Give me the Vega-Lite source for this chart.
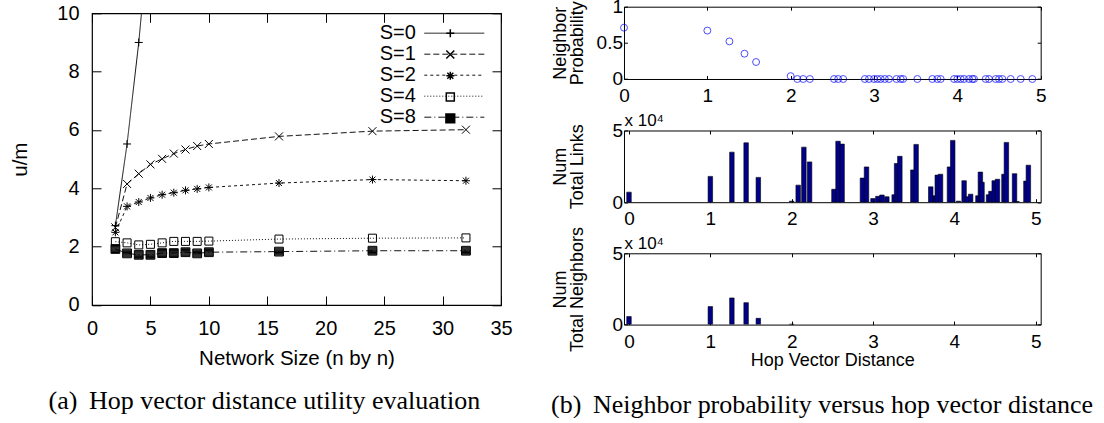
{
  "$schema": "https://vega.github.io/schema/vega-lite/v6.json",
  "background": "white",
  "padding": {"left": 10, "top": -3.3, "right": 0, "bottom": 0},
  "spacing": 38,
  "config": {
    "font": "Liberation Sans",
    "view": {"stroke": "black", "strokeWidth": 1},
    "axis": {
      "grid": false, "domain": false, "ticks": true, "tickColor": "black", "tickWidth": 1,
      "labelColor": "black", "titleColor": "black", "titleFontWeight": "normal",
      "labelFont": "Liberation Sans", "titleFont": "Liberation Sans",
      "labelFlush": false, "labelOverlap": false
    },
    "legend": {"labelFont": "Liberation Sans", "labelColor": "black", "padding": 0},
    "title": {"font": "Liberation Sans", "fontWeight": "normal", "color": "black"}
  },
  "datasets": {
    "utility": [
      {"S": "S=0", "n": 2, "um": 2.72}, {"S": "S=0", "n": 3, "um": 5.52}, {"S": "S=0", "n": 4, "um": 9.0}, {"S": "S=0", "n": 5, "um": 13.3},
      {"S": "S=1", "n": 2, "um": 2.66}, {"S": "S=1", "n": 3, "um": 4.15}, {"S": "S=1", "n": 4, "um": 4.5}, {"S": "S=1", "n": 5, "um": 4.82},
      {"S": "S=1", "n": 6, "um": 5.01}, {"S": "S=1", "n": 7, "um": 5.19}, {"S": "S=1", "n": 8, "um": 5.33}, {"S": "S=1", "n": 9, "um": 5.45},
      {"S": "S=1", "n": 10, "um": 5.52}, {"S": "S=1", "n": 16, "um": 5.78}, {"S": "S=1", "n": 24, "um": 5.96}, {"S": "S=1", "n": 32, "um": 6.01},
      {"S": "S=2", "n": 2, "um": 2.49}, {"S": "S=2", "n": 3, "um": 3.38}, {"S": "S=2", "n": 4, "um": 3.53}, {"S": "S=2", "n": 5, "um": 3.67},
      {"S": "S=2", "n": 6, "um": 3.78}, {"S": "S=2", "n": 7, "um": 3.85}, {"S": "S=2", "n": 8, "um": 3.93}, {"S": "S=2", "n": 9, "um": 3.98},
      {"S": "S=2", "n": 10, "um": 4.03}, {"S": "S=2", "n": 16, "um": 4.18}, {"S": "S=2", "n": 24, "um": 4.3}, {"S": "S=2", "n": 32, "um": 4.26},
      {"S": "S=4", "n": 2, "um": 2.17}, {"S": "S=4", "n": 3, "um": 2.13}, {"S": "S=4", "n": 4, "um": 2.06}, {"S": "S=4", "n": 5, "um": 2.08},
      {"S": "S=4", "n": 6, "um": 2.13}, {"S": "S=4", "n": 7, "um": 2.18}, {"S": "S=4", "n": 8, "um": 2.18}, {"S": "S=4", "n": 9, "um": 2.18},
      {"S": "S=4", "n": 10, "um": 2.19}, {"S": "S=4", "n": 16, "um": 2.26}, {"S": "S=4", "n": 24, "um": 2.29}, {"S": "S=4", "n": 32, "um": 2.3},
      {"S": "S=8", "n": 2, "um": 1.92}, {"S": "S=8", "n": 3, "um": 1.77}, {"S": "S=8", "n": 4, "um": 1.72}, {"S": "S=8", "n": 5, "um": 1.72},
      {"S": "S=8", "n": 6, "um": 1.78}, {"S": "S=8", "n": 7, "um": 1.78}, {"S": "S=8", "n": 8, "um": 1.81}, {"S": "S=8", "n": 9, "um": 1.77},
      {"S": "S=8", "n": 10, "um": 1.81}, {"S": "S=8", "n": 16, "um": 1.83}, {"S": "S=8", "n": 24, "um": 1.86}, {"S": "S=8", "n": 32, "um": 1.86}
    ],
    "prob": [
      {"d": 0, "p": 0.71}, {"d": 1.0, "p": 0.67}, {"d": 1.265, "p": 0.52}, {"d": 1.446, "p": 0.35}, {"d": 1.585, "p": 0.235},
      {"d": 2.0, "p": 0.04}, {"d": 2.08, "p": 0}, {"d": 2.15, "p": 0}, {"d": 2.23, "p": 0}, {"d": 2.52, "p": 0},
      {"d": 2.57, "p": 0}, {"d": 2.63, "p": 0}, {"d": 2.89, "p": 0}, {"d": 2.94, "p": 0}, {"d": 3.0, "p": 0},
      {"d": 3.04, "p": 0}, {"d": 3.08, "p": 0}, {"d": 3.13, "p": 0}, {"d": 3.18, "p": 0}, {"d": 3.27, "p": 0},
      {"d": 3.32, "p": 0}, {"d": 3.35, "p": 0}, {"d": 3.52, "p": 0}, {"d": 3.7, "p": 0}, {"d": 3.76, "p": 0},
      {"d": 3.8, "p": 0}, {"d": 3.96, "p": 0}, {"d": 4.0, "p": 0}, {"d": 4.04, "p": 0}, {"d": 4.08, "p": 0},
      {"d": 4.14, "p": 0}, {"d": 4.18, "p": 0}, {"d": 4.2, "p": 0}, {"d": 4.34, "p": 0}, {"d": 4.38, "p": 0},
      {"d": 4.46, "p": 0}, {"d": 4.5, "p": 0}, {"d": 4.54, "p": 0}, {"d": 4.64, "p": 0}, {"d": 4.76, "p": 0},
      {"d": 4.9, "p": 0}
    ],
    "links": [
      {"d": 0, "count": 7000}, {"d": 1.0, "count": 18000}, {"d": 1.265, "count": 34900}, {"d": 1.44, "count": 41400},
      {"d": 1.59, "count": 17300}, {"d": 2.0, "count": 700}, {"d": 2.08, "count": 11900}, {"d": 2.15, "count": 38400},
      {"d": 2.22, "count": 28100}, {"d": 2.52, "count": 9000}, {"d": 2.57, "count": 42500}, {"d": 2.62, "count": 40500},
      {"d": 2.87, "count": 16800}, {"d": 2.92, "count": 24600}, {"d": 3.0, "count": 2500}, {"d": 3.06, "count": 4100},
      {"d": 3.11, "count": 5000}, {"d": 3.17, "count": 3800}, {"d": 3.26, "count": 5200}, {"d": 3.29, "count": 27000},
      {"d": 3.33, "count": 32000}, {"d": 3.49, "count": 22500}, {"d": 3.53, "count": 40300}, {"d": 3.71, "count": 10700},
      {"d": 3.76, "count": 4500}, {"d": 3.79, "count": 18900}, {"d": 3.83, "count": 19500}, {"d": 3.94, "count": 24600},
      {"d": 3.98, "count": 43100}, {"d": 4.05, "count": 700}, {"d": 4.12, "count": 15000}, {"d": 4.16, "count": 3800},
      {"d": 4.2, "count": 5600}, {"d": 4.29, "count": 4500}, {"d": 4.32, "count": 21000}, {"d": 4.34, "count": 13900},
      {"d": 4.42, "count": 5200}, {"d": 4.45, "count": 7600}, {"d": 4.49, "count": 15000}, {"d": 4.53, "count": 16000},
      {"d": 4.61, "count": 19500}, {"d": 4.64, "count": 41700}, {"d": 4.74, "count": 19900}, {"d": 4.77, "count": 400},
      {"d": 4.88, "count": 14700}, {"d": 4.91, "count": 25800}
    ],
    "neighbors": [
      {"d": 0, "count": 5600}, {"d": 1.0, "count": 12600}, {"d": 1.265, "count": 18700},
      {"d": 1.44, "count": 15400}, {"d": 1.59, "count": 4400}, {"d": 2.0, "count": 300}
    ]
  },
  "hconcat": [
    {
      "spacing": 5.6,
      "bounds": "flush",
      "vconcat": [
        {
          "width": 1, "height": 1,
          "data": {"values": []},
          "mark": {"type": "rule"},
          "encoding": {},
          "view": {"stroke": "transparent"}
        },
        {
          "width": 409, "height": 291.7,
          "data": {"name": "utility"},
          "view": {"stroke": "black", "strokeWidth": 1.2},
          "title": {
            "text": "(a) \u2009Hop vector distance utility evaluation",
            "orient": "bottom", "anchor": "start", "frame": "group", "dx": -43.5, "offset": 18.5,
            "font": "Liberation Serif", "fontSize": 26, "baseline": "top"
          },
          "layer": [
            {
              "mark": {"type": "line", "clip": true, "stroke": "#111111", "strokeWidth": 1},
              "encoding": {
                "x": {
                  "field": "n", "type": "quantitative",
                  "scale": {"domain": [0, 35], "nice": false, "zero": false},
                  "axis": {"orient": "bottom", "values": [0, 5, 10, 15, 20, 25, 30, 35], "title": "Network Size (n by n)",
                    "labelFontSize": 20, "titleFontSize": 20.5, "tickSize": -9, "labelPadding": 23, "titlePadding": 10}
                },
                "y": {
                  "field": "um", "type": "quantitative",
                  "scale": {"domain": [0, 10], "nice": false},
                  "axis": {"orient": "left", "values": [0, 2, 4, 6, 8, 10], "title": "u/m",
                    "labelFontSize": 20, "titleFontSize": 20.5, "tickSize": -9, "labelPadding": 22, "titlePadding": 26}
                },
                "strokeDash": {
                  "field": "S", "type": "nominal",
                  "scale": {"domain": ["S=0", "S=1", "S=2", "S=4", "S=8"], "range": [[1, 0], [6, 3], [3, 3], [1, 2], [7, 3, 1, 3]]},
                  "legend": {
                    "orient": "none", "legendX": 352.3, "legendY": 16.5, "title": null,
                    "symbolType": "M-7.5,0L7.5,0", "symbolSize": 64, "symbolStrokeColor": "#111111", "symbolStrokeWidth": 1,
                    "symbolFillColor": "transparent", "labelFontSize": 20, "labelAlign": "right", "labelOffset": -48.5,
                    "rowPadding": 1, "padding": 0
                  }
                }
              }
            },
            {
              "mark": {"type": "point", "clip": true, "filled": false, "stroke": "black", "strokeWidth": 1, "size": 64, "opacity": 1},
              "encoding": {
                "x": {"field": "n", "type": "quantitative",
                  "axis": {"orient": "top", "values": [0, 5, 10, 15, 20, 25, 30, 35], "labels": false, "title": null, "tickSize": -9}},
                "y": {"field": "um", "type": "quantitative",
                  "axis": {"orient": "right", "values": [0, 2, 4, 6, 8, 10], "labels": false, "title": null, "tickSize": -9}},
                "shape": {
                  "field": "S", "type": "nominal",
                  "scale": {"range": [
                    "M-1,0L1,0M0,-1L0,1",
                    "M-1,-1L1,1M-1,1L1,-1",
                    "M-1,0L1,0M0,-1L0,1M-0.75,-0.75L0.75,0.75M-0.75,0.75L0.75,-0.75",
                    "M-1,-1L1,-1L1,1L-1,1Z",
                    "M-1.1,-1.1L1.1,-1.1L1.1,1.1L-1.1,1.1ZM-1.1,-0.88L1.1,-0.88M-1.1,-0.66L1.1,-0.66M-1.1,-0.44L1.1,-0.44M-1.1,-0.22L1.1,-0.22M-1.1,0L1.1,0M-1.1,0.22L1.1,0.22M-1.1,0.44L1.1,0.44M-1.1,0.66L1.1,0.66M-1.1,0.88L1.1,0.88"
                  ]},
                  "legend": {
                    "orient": "none", "legendX": 348.3, "legendY": 16.5, "title": null,
                    "symbolSize": 64, "labelFontSize": 20, "labelAlign": "right", "labelOffset": -48.5,
                    "labelExpr": "''", "rowPadding": 1.3, "padding": 0,
                    "encode": {"symbols": {"stroke": {"value": "black"}, "strokeWidth": {"value": 1}}}
                  }
                }
              }
            }
          ],
          "resolve": {"axis": {"x": "independent", "y": "independent"}}
        }
      ]
    },
    {
      "spacing": 50.8,
      "bounds": "flush",
      "title": {
        "text": "(b) \u2009Neighbor probability versus hop vector distance",
        "orient": "bottom", "anchor": "start", "frame": "group", "dx": -73, "offset": 22,
        "font": "Liberation Serif", "fontSize": 26, "baseline": "top"
      },
      "vconcat": [
        {
          "width": 416.7, "height": 72.3,
          "data": {"name": "prob"},
          "layer": [
            {
              "mark": {"type": "point", "shape": "circle", "filled": false, "stroke": "#0000ff", "strokeWidth": 1, "size": 48},
              "encoding": {
                "x": {"field": "d", "type": "quantitative", "scale": {"domain": [0, 5], "nice": false},
                  "axis": {"orient": "bottom", "values": [0, 1, 2, 3, 4, 5], "title": null, "labelFontSize": 19, "tickSize": -3.5, "labelPadding": 11}},
                "y": {"field": "p", "type": "quantitative", "scale": {"domain": [0, 1], "nice": false},
                  "axis": {"orient": "left", "values": [0, 0.5, 1], "format": "~g", "title": ["Neighbor", "Probability"],
                    "labelFontSize": 19, "titleFontSize": 18, "titleLineHeight": 17.2, "tickSize": -3.5, "labelPadding": 5, "titlePadding": 9.3}}
              }
            },
            {
              "mark": {"type": "point", "opacity": 0},
              "encoding": {
                "x": {"field": "d", "type": "quantitative",
                  "axis": {"orient": "top", "values": [0, 1, 2, 3, 4, 5], "labels": false, "title": null, "tickSize": -3.5}},
                "y": {"field": "p", "type": "quantitative",
                  "axis": {"orient": "right", "values": [0, 0.5, 1], "labels": false, "title": null, "tickSize": -3.5}}
              }
            }
          ],
          "resolve": {"axis": {"x": "independent", "y": "independent"}}
        },
        {
          "width": 416.7, "height": 71.7,
          "data": {"name": "links"},
          "layer": [
            {
              "mark": {"type": "bar", "size": 4.5, "fill": "#000088", "stroke": "black", "strokeWidth": 0.6, "clip": true},
              "encoding": {
                "x": {"field": "d", "type": "quantitative", "scale": {"domain": [0, 5], "nice": false},
                  "axis": {"orient": "bottom", "values": [0, 1, 2, 3, 4, 5], "title": null, "labelFontSize": 19, "tickSize": -3.5, "labelPadding": 11}},
                "y": {"field": "count", "type": "quantitative", "scale": {"domain": [0, 50000], "nice": false},
                  "axis": {"orient": "left", "values": [0, 50000], "labelExpr": "datum.value / 10000", "title": ["Num", "Total Links"],
                    "labelFontSize": 19, "titleFontSize": 18, "titleLineHeight": 17.2, "tickSize": -3.5, "labelPadding": 5, "titlePadding": 25}}
              }
            },
            {
              "mark": {"type": "bar", "size": 4.5, "opacity": 0},
              "encoding": {
                "x": {"field": "d", "type": "quantitative",
                  "axis": {"orient": "top", "values": [0, 1, 2, 3, 4, 5], "labels": false, "tickSize": -3.5,
                    "title": "x 10\u2074", "titleFontSize": 17, "titleAnchor": "start", "titleAlign": "left", "titleAngle": 0,
                    "titleBaseline": "alphabetic", "titlePadding": 4}},
                "y": {"field": "count", "type": "quantitative",
                  "axis": {"orient": "right", "values": [0, 50000], "labels": false, "title": null, "tickSize": -3.5}}
              }
            }
          ],
          "resolve": {"axis": {"x": "independent", "y": "independent"}}
        },
        {
          "width": 416.7, "height": 71.3,
          "data": {"name": "neighbors"},
          "layer": [
            {
              "mark": {"type": "bar", "size": 4.5, "fill": "#000088", "stroke": "black", "strokeWidth": 0.6, "clip": true},
              "encoding": {
                "x": {"field": "d", "type": "quantitative", "scale": {"domain": [0, 5], "nice": false},
                  "axis": {"orient": "bottom", "values": [0, 1, 2, 3, 4, 5], "title": "Hop Vector Distance", "labelFontSize": 19, "titleFontSize": 18,
                    "tickSize": -3.5, "labelPadding": 11, "titlePadding": 0}},
                "y": {"field": "count", "type": "quantitative", "scale": {"domain": [0, 50000], "nice": false},
                  "axis": {"orient": "left", "values": [0, 50000], "labelExpr": "datum.value / 10000", "title": ["Num", "Total Neighbors"],
                    "labelFontSize": 19, "titleFontSize": 18, "titleLineHeight": 17.2, "tickSize": -3.5, "labelPadding": 5, "titlePadding": 25}}
              }
            },
            {
              "mark": {"type": "bar", "size": 4.5, "opacity": 0},
              "encoding": {
                "x": {"field": "d", "type": "quantitative",
                  "axis": {"orient": "top", "values": [0, 1, 2, 3, 4, 5], "labels": false, "tickSize": -3.5,
                    "title": "x 10\u2074", "titleFontSize": 17, "titleAnchor": "start", "titleAlign": "left", "titleAngle": 0,
                    "titleBaseline": "alphabetic", "titlePadding": 4}},
                "y": {"field": "count", "type": "quantitative",
                  "axis": {"orient": "right", "values": [0, 50000], "labels": false, "title": null, "tickSize": -3.5}}
              }
            }
          ],
          "resolve": {"axis": {"x": "independent", "y": "independent"}}
        }
      ]
    }
  ]
}
